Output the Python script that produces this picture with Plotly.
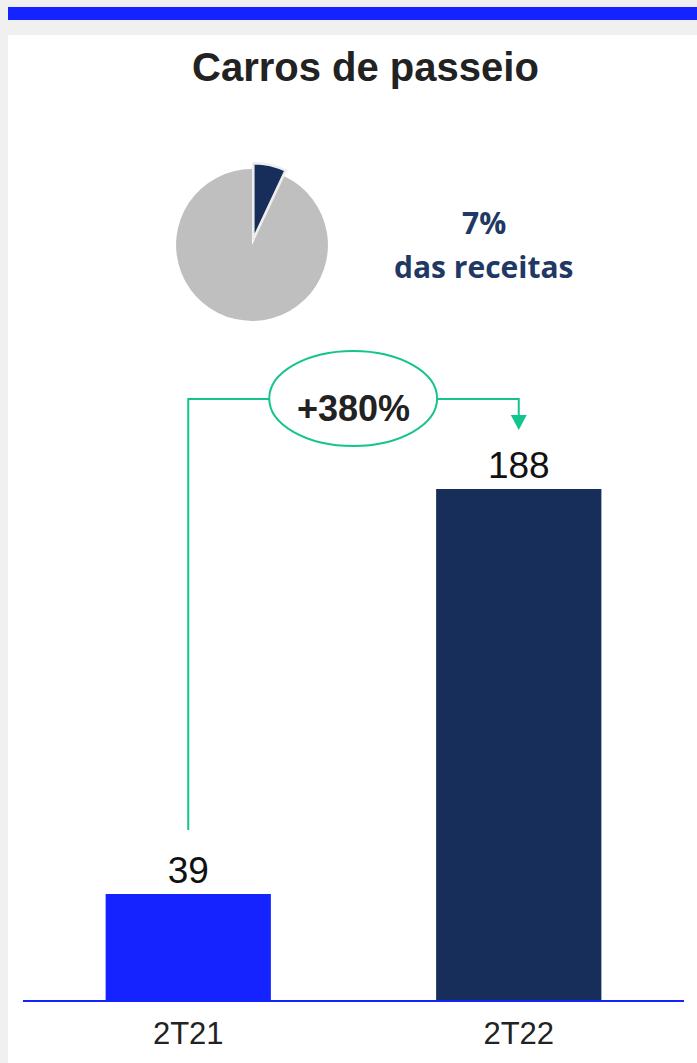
import plotly.graph_objects as go

# dados
TITULO = "Carros de passeio"
PERIODOS = ["2T21", "2T22"]
VALORES = [39, 188]
CORES_BARRAS = ["#1423ff", "#172e5a"]
FATIA_LABELS = ["Carros de passeio", "Outros"]
FATIA_VALORES = [7, 93]
VARIACAO = "+380%"

W, H = 697, 1063
AZUL = "#1423ff"
VERDE = "#14c48e"
NAVY = "#1f3864"


def main():
    fig = go.Figure()

    fig.add_trace(
        go.Bar(
            x=PERIODOS,
            y=VALORES,
            width=0.5,
            marker_color=CORES_BARRAS,
            marker_line_width=0,
            text=[str(v) for v in VALORES],
            textposition="outside",
            textfont=dict(family="Liberation Sans, Arial", size=37, color="#111111"),
            cliponaxis=False,
            hoverinfo="skip",
        )
    )

    # pizza pequena com a participação nas receitas
    cx, cy, r = 252, 245, 82
    fig.add_trace(
        go.Pie(
            labels=FATIA_LABELS,
            values=FATIA_VALORES,
            sort=False,
            direction="clockwise",
            rotation=0,
            pull=[0.08, 0],
            marker=dict(
                colors=["#172e5a", "#bfbfbf"],
                line=dict(color=["#eeeeee", "#bfbfbf"], width=[2.5, 0]),
            ),
            textinfo="none",
            hoverinfo="skip",
            showlegend=False,
            domain=dict(
                x=[(cx - r) / W, (cx + r) / W],
                y=[(H - cy - r) / H, (H - cy + r) / H],
            ),
        )
    )

    # escala do eixo y: base em 1000 px, topo do gráfico em 330 px
    base_px, topo_px = 1000, 330
    px_por_unidade = (1000 - 489) / max(VALORES)
    ymax = (base_px - topo_px) / px_por_unidade

    def y_de(px):
        return (base_px - px) / px_por_unidade

    nivel = y_de(399)
    shapes = [
        dict(type="rect", xref="paper", yref="paper", x0=8 / W, x1=1, y0=1 - 7 / H, y1=1 - 20 / H,
             fillcolor=AZUL, line_width=0, layer="below"),
        dict(type="rect", xref="paper", yref="paper", x0=8 / W, x1=1, y0=0, y1=1 - 35 / H,
             fillcolor="white", line_width=0, layer="below"),
        # conector
        dict(type="path", xref="x", yref="y",
             path=f"M 0 {y_de(830)} L 0 {nivel} L 0.245 {nivel}",
             line=dict(color=VERDE, width=2)),
        dict(type="path", xref="x", yref="y",
             path=f"M 0.753 {nivel} L 1 {nivel} L 1 {y_de(416)}",
             line=dict(color=VERDE, width=2)),
        dict(type="circle", xref="x", yref="y", x0=0.245, x1=0.753, y0=y_de(446), y1=y_de(351),
             line=dict(color=VERDE, width=2), fillcolor="rgba(0,0,0,0)"),
        dict(type="path", xref="x", yref="y", xsizemode="pixel", ysizemode="pixel",
             xanchor=1, yanchor=y_de(430), path="M -8 15 L 8 15 L 0 0 Z",
             fillcolor=VERDE, line_width=0),
    ]

    comum = dict(xref="paper", yref="paper", showarrow=False, xanchor="center", yanchor="middle")
    anotacoes = [
        dict(x=365 / W, y=1 - 67 / H, text=f"<b>{TITULO}</b>",
             font=dict(family="Liberation Sans, Arial", size=40, color="#222222"), **comum),
        dict(x=484 / W, y=1 - 222 / H, text="<b>7%</b>",
             font=dict(family="Open Sans", size=30, color=NAVY), **comum),
        dict(x=484 / W, y=1 - 266 / H, text="<b>das receitas</b>",
             font=dict(family="Open Sans", size=30, color=NAVY), **comum),
        dict(x=0.5, y=y_de(408), xref="x", yref="y", text=f"<b>{VARIACAO}</b>",
             showarrow=False, font=dict(family="Liberation Sans, Arial", size=36, color="#222222")),
    ]

    fig.update_xaxes(
        domain=[23 / W, 684 / W],
        range=[-0.5, 1.5],
        showline=True,
        linecolor=AZUL,
        linewidth=2,
        ticks="",
        showgrid=False,
        zeroline=False,
        ticklabelstandoff=5,
        tickfont=dict(family="Liberation Sans, Arial", size=31, color="#222222"),
    )
    fig.update_yaxes(
        domain=[(H - base_px) / H, (H - topo_px) / H],
        range=[0, ymax],
        visible=False,
    )

    fig.update_layout(
        width=W,
        height=H,
        margin=dict(l=0, r=0, t=0, b=0),
        paper_bgcolor="#f0f0f0",
        plot_bgcolor="rgba(0,0,0,0)",
        showlegend=False,
        bargap=0.5,
        shapes=shapes,
        annotations=anotacoes,
    )

    # sem margem da página, para a figura ocupar a janela inteira
    fig.write_html(
        "out.html",
        config={"displayModeBar": False},
        post_script="document.body.style.margin='0';document.body.style.background='#f0f0f0';",
    )


if __name__ == "__main__":
    main()
